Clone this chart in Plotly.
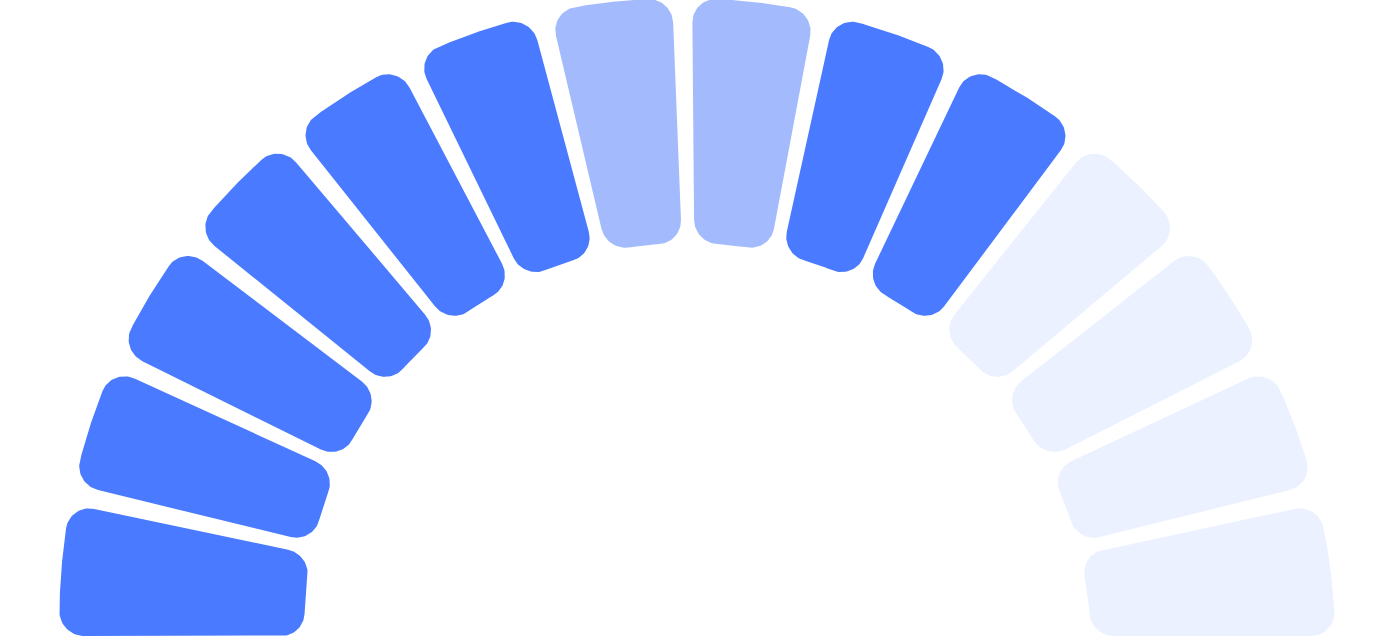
import numpy as np
import plotly.graph_objects as go

# ---- data ----
segment_ids = list(range(1, 15))                      # 14 gauge segments, left to right
segment_levels = [2, 2, 2, 2, 2, 2, 1, 1, 2, 2, 0, 0, 0, 0]   # 2=strong, 1=medium, 0=empty
level_colors = {2: "#4A7AFF", 1: "#A3BBFD", 0: "#EBF1FE"}
value_label = "70.5%"
metric_label = "Revenue Growth"

# ---- geometry (pixels) ----
W, H = 1396, 640
CX, CY = 697.5, 4.0          # centre of the half ring (data y measured from bottom)
R_OUT, R_IN = 638.0, 393.0
RHO = 24.0                   # corner radius
GAP_DEG = 1.8                # angular gap between neighbouring segments
SKEW = 0.024                 # slight horizontal lean of the drawing


def arc(cx, cy, r, a0, a1, n=24):
    t = np.linspace(a0, a1, n)
    return cx + r * np.cos(t), cy + r * np.sin(t)


def ccw(s, e):
    d = (e - s) % (2 * np.pi)
    return s, s + d


def segment_outline(lo, hi, ri, ro, rho):
    Ro, Ri = ro - rho, ri + rho
    u0 = np.array([np.cos(lo), np.sin(lo)]); n0 = np.array([-np.sin(lo), np.cos(lo)])
    u1 = np.array([np.cos(hi), np.sin(hi)]); n1 = np.array([np.sin(hi), -np.cos(hi)])
    A = rho * n0 + np.sqrt(Ro**2 - rho**2) * u0
    D = rho * n0 + np.sqrt(Ri**2 - rho**2) * u0
    B = rho * n1 + np.sqrt(Ro**2 - rho**2) * u1
    C = rho * n1 + np.sqrt(Ri**2 - rho**2) * u1
    tA, tB = np.arctan2(A[1], A[0]), np.arctan2(B[1], B[0])
    tC, tD = np.arctan2(C[1], C[0]), np.arctan2(D[1], D[0])
    xs, ys = [], []
    x, y = arc(0, 0, ro, tA, tB, 60); xs += list(x); ys += list(y)
    s, e = ccw(tB, hi + np.pi / 2)
    x, y = arc(B[0], B[1], rho, s, e); xs += list(x); ys += list(y)
    s, e = ccw(hi + np.pi / 2, tC + np.pi)
    x, y = arc(C[0], C[1], rho, s, e); xs += list(x); ys += list(y)
    x, y = arc(0, 0, ri, tC, tD, 40); xs += list(x); ys += list(y)
    s, e = ccw(tD + np.pi, lo - np.pi / 2)
    x, y = arc(D[0], D[1], rho, s, e); xs += list(x); ys += list(y)
    s, e = ccw(lo - np.pi / 2, tA)
    x, y = arc(A[0], A[1], rho, s, e); xs += list(x); ys += list(y)
    xs.append(xs[0]); ys.append(ys[0])
    xs, ys = np.array(xs), np.array(ys)
    return xs - SKEW * ys, ys


fig = go.Figure()
n = len(segment_ids)
step = 180.0 / n
for k, (sid, lvl) in enumerate(zip(segment_ids, segment_levels)):
    hi_deg = 180 - k * step - (GAP_DEG / 2 if k > 0 else 0)
    lo_deg = 180 - (k + 1) * step + (GAP_DEG / 2 if k < n - 1 else 0)
    xs, ys = segment_outline(np.radians(lo_deg), np.radians(hi_deg), R_IN, R_OUT, RHO)
    fig.add_trace(go.Scatter(
        x=CX + xs, y=CY + ys, mode="lines", fill="toself",
        fillcolor=level_colors[lvl], line=dict(width=0, color=level_colors[lvl]),
        hoverinfo="skip", showlegend=False, name=f"Segment {sid}",
    ))

fig.add_annotation(x=CX, y=H - 478, text=f"<b>{value_label}</b>", showarrow=False,
                   font=dict(family="Inter, Roboto, sans-serif", size=120, color="#FFFFFF"),
                   xanchor="center", yanchor="middle")
fig.add_annotation(x=CX, y=H - 588, text=metric_label, showarrow=False,
                   font=dict(family="Inter, Roboto, sans-serif", size=44, color="#FFFFFF"),
                   xanchor="center", yanchor="middle")

fig.update_layout(
    width=W, height=H, margin=dict(l=0, r=0, t=0, b=0),
    paper_bgcolor="#FFFFFF", plot_bgcolor="#FFFFFF",
    xaxis=dict(range=[0, W], visible=False, fixedrange=True),
    yaxis=dict(range=[0, H], visible=False, fixedrange=True, scaleanchor="x", scaleratio=1),
)

fig.write_html("out.html", config={"displayModeBar": False},
               post_script="document.body.style.margin='0';")
